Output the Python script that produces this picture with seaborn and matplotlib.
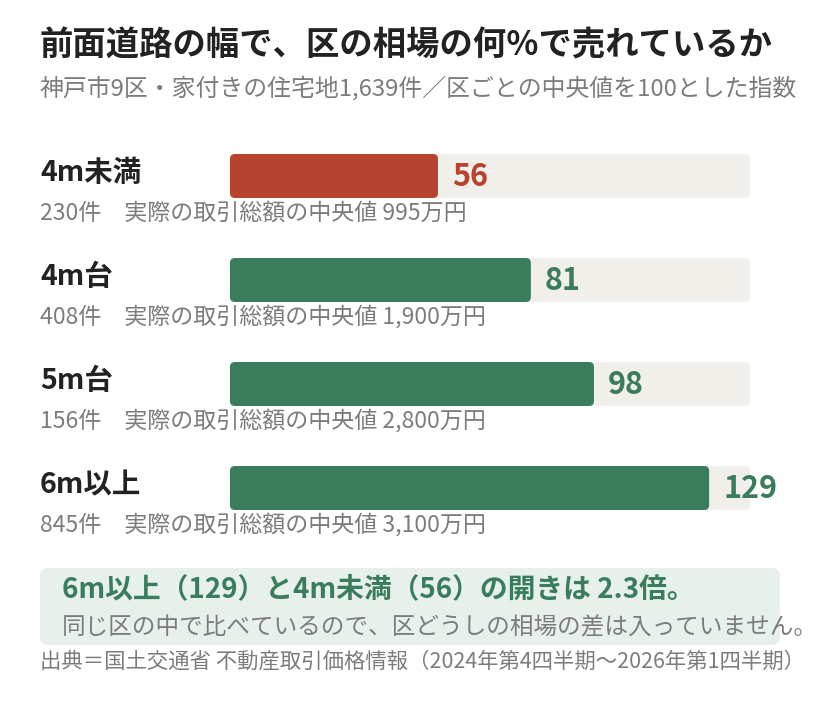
import matplotlib
matplotlib.use("Agg")
import matplotlib.pyplot as plt
from matplotlib.patches import FancyBboxPatch
import pandas as pd
import seaborn as sns

# data
categories = ["4m未満", "4m台", "5m台", "6m以上"]
index_values = [56, 81, 98, 129]
counts = [230, 408, 156, 845]
median_prices = ["995", "1,900", "2,800", "3,100"]
track_max = 140

RED = "#B5432F"
GREEN = "#3A7D5C"
TRACK = "#F0EFEA"
DARK = "#222222"
GRAY = "#7C7C7C"
BOX = "#E7F0EA"

sns.set_style("white")
plt.rcParams["font.family"] = ["Noto Sans CJK JP", "DejaVu Sans"]

W, H = 820, 708
fig = plt.figure(figsize=(W / 100, H / 100), dpi=100)
fig.patch.set_facecolor("white")


def px(x, y):
    return x / W, 1 - y / H


df = pd.DataFrame({"category": categories, "value": index_values})
df["track"] = track_max
bar_colors = [RED] + [GREEN] * (len(categories) - 1)

ax = fig.add_axes([230 / W, 1 - 540 / H, 520 / W, 416 / H])
sns.barplot(data=df, x="track", y="category", color=TRACK, width=0.423,
            saturation=1, ax=ax)
sns.barplot(data=df, x="value", y="category", hue="category",
            palette=bar_colors, legend=False, width=0.423, saturation=1, ax=ax)
ax.set_xlim(0, track_max)
ax.set_ylim(len(categories) - 0.5, -0.5)
ax.axis("off")

# rounded corners on the bars seaborn drew
x_px = 520 / track_max
y_px = 104
for p in list(ax.patches):
    x0, y0 = p.get_x(), p.get_y()
    w, h = p.get_width(), p.get_height()
    fc = p.get_facecolor()
    p.remove()
    ax.add_patch(FancyBboxPatch((x0, y0), w, h,
                                boxstyle=f"round,pad=0,rounding_size={5 / x_px}",
                                mutation_aspect=x_px / y_px,
                                facecolor=fc, edgecolor="none"))

for i, (v, c) in enumerate(zip(index_values, bar_colors)):
    ax.annotate(str(v), xy=(v, i), xytext=(10, -1), textcoords="offset points",
                va="center", ha="left", fontsize=22, fontweight="bold", color=c)

# titles
fig.text(*px(40, 46), "前面道路の幅で、区の相場の何%で売れているか",
         fontsize=24, fontweight="bold", color=DARK, va="center")
fig.text(*px(40, 88), "神戸市9区・家付きの住宅地1,639件／区ごとの中央値を100とした指数",
         fontsize=17.2, color=GRAY, va="center")

# row labels
for i, (cat, n, m) in enumerate(zip(categories, counts, median_prices)):
    y = 173 + 104 * i
    fig.text(*px(40, y), cat, fontsize=20.5, fontweight="bold", color=DARK,
             va="center")
    fig.text(*px(40, y + 40), f"{n}件　実際の取引総額の中央値 {m}万円",
             fontsize=16.6, color=GRAY, va="center")

# callout
fig.add_artist(FancyBboxPatch(px(40, 645), 740 / W, 77 / H,
                              boxstyle="round,pad=0,rounding_size=0.01",
                              mutation_aspect=W / H, transform=fig.transFigure,
                              facecolor=BOX, edgecolor="none"))
fig.text(*px(62, 589), "6m以上（129）と4m未満（56）の開きは 2.3倍。",
         fontsize=20, fontweight="bold", color=GREEN, va="center")
fig.text(*px(62, 628), "同じ区の中で比べているので、区どうしの相場の差は入っていません。",
         fontsize=17, color=GRAY, va="center")
fig.text(*px(40, 662), "出典＝国土交通省 不動産取引価格情報（2024年第4四半期～2026年第1四半期）",
         fontsize=15.4, color=GRAY, va="center")

fig.savefig("out.png", dpi=100, facecolor="white")
